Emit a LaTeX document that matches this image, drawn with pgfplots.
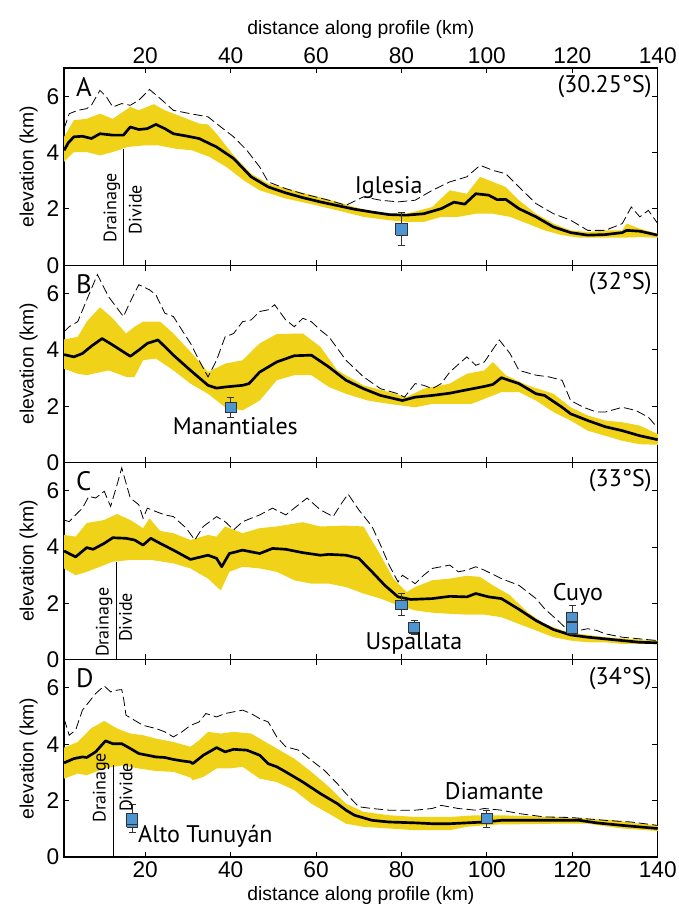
\documentclass[border=0pt]{standalone}
\usepackage{fontspec}
\setmainfont{Liberation Sans}
\newfontfamily\annot{PT Sans}
\usepackage{pgfplots}
\pgfplotsset{compat=1.18}
\usepgfplotslibrary{groupplots,fillbetween}
\definecolor{band}{RGB}{240,210,25}
\definecolor{boxblue}{RGB}{77,148,211}
\definecolor{boxedge}{RGB}{50,50,50}
\pgfplotsset{
 prof/.style={width=444.75pt,height=147.75pt,scale only axis,
  xmin=1,xmax=140,ymin=0,ymax=7,
  xtick={20,40,...,140}, ytick={0,2,4,6},
  tick align=inside, major tick length=4pt,
  tick style={black,line width=0.8pt}, axis line style={line width=0.9pt},
  ticklabel style={font=\fontsize{17}{20}\selectfont},
  /pgf/number format/assume math mode=true,
  label style={font=\fontsize{14.5}{17}\selectfont},
  ylabel={elevation (km)}},
 bandfill/.style={fill=band, draw=none},
 meanl/.style={black, line width=2pt, line join=round},
 maxl/.style={black, line width=0.6pt, dash pattern=on 7pt off 3pt},
 smp/.style={fill=boxblue, draw=boxedge, line width=0.8pt, line join=miter},
 whisk/.style={boxedge, line width=0.8pt},
}
\tikzset{
 lab/.style={font=\annot\fontsize{18}{21}\selectfont, inner sep=0pt},
 let/.style={font=\annot\fontsize{20}{23}\selectfont, inner sep=0pt},
 dd/.style={font=\annot\fontsize{13.5}{16}\selectfont, rotate=90, inner sep=0pt},
}
\begin{document}
\begin{tikzpicture}
\begin{groupplot}[group style={group size=1 by 4, vertical sep=0pt}, prof]
% ---------------- A
\nextgroupplot[xticklabel pos=upper, xtick pos=both, ytick pos=both, yticklabel pos=left,
  xlabel={distance along profile (km)}]
\addplot[name path=Aup, draw=none] coordinates {(1,4.56) (3.3,5.15) (6.3,5.2) (9.4,5.38) (12.4,5.2) (16.5,5.62) (18.5,5.5) (22,5.72) (24.6,5.5) (28.6,5.27) (32.6,5.03) (34.7,5.0) (36.7,4.67) (40.7,3.9) (44.8,3.25) (48.8,2.9) (56.9,2.57) (63,2.33) (69,2.07) (75.1,1.83) (81.2,1.83) (87.2,2.07) (91.3,2.66) (95.3,2.54) (98.4,3.14) (101.4,2.96) (104.4,2.78) (107.5,2.31) (111.5,1.83) (115.6,1.48) (119.6,1.24) (123.6,1.18) (127.7,1.24) (131.7,1.24) (132.7,1.48) (135.8,1.30) (140,1.12)};
\addplot[name path=Alo, draw=none] coordinates {(1,3.67) (3.3,4.02) (6.3,4.02) (9.4,3.9) (12.4,4.02) (15.9,4.2) (20,4.26) (23,4.26) (27,4.14) (31,4.08) (35,3.85) (39,3.49) (43,3.02) (46.8,2.66) (52.9,2.37) (58.9,2.17) (65,1.95) (71.1,1.72) (77.1,1.60) (81.2,1.54) (85.2,1.54) (89.3,1.72) (93.3,1.72) (97.4,1.83) (101.4,1.83) (105.4,1.72) (109.5,1.48) (113.5,1.24) (117.6,1.07) (121.6,0.98) (127.7,0.98) (131.7,0.98) (135.8,1.0) (140,0.98)};
\addplot[bandfill] fill between[of=Aup and Alo];
\addplot[maxl] coordinates {(1,4.85) (2.2,5.38) (4.2,5.5) (6.3,5.56) (7.4,5.68) (9.4,6.21) (10.9,5.98) (12.4,5.62) (14.5,5.74) (16.5,5.68) (18.5,5.86) (21,6.24) (23.5,5.92) (26.6,5.5) (30.6,5.38) (34.7,5.27) (37.7,4.91) (40.7,4.56) (43.8,4.08) (46.8,3.49) (48.8,2.96) (52.9,2.72) (56.9,2.54) (63,2.31) (67,2.13) (71.1,2.43) (75.1,2.31) (79.2,2.25) (83.2,2.31) (87.2,2.66) (91.3,2.96) (95.3,3.14) (98.4,3.55) (101.4,3.37) (104.4,3.25) (107.5,2.78) (111.5,2.19) (115.6,1.83) (119.6,1.60) (123.6,1.24) (127.7,1.24) (131.7,1.48) (133.8,2.07) (135.8,1.72) (137.8,1.95) (140,1.48)};
\addplot[meanl] coordinates {(1,4.08) (2,4.35) (3.3,4.56) (5.3,4.58) (7.4,4.50) (9.4,4.67) (12.4,4.62) (14.9,4.62) (16.5,4.91) (18.5,4.82) (20.5,4.85) (22.5,5.0) (24.6,4.85) (26.6,4.67) (29.6,4.59) (32.6,4.5) (36.7,4.2) (40.7,3.79) (44.8,3.14) (48.8,2.78) (52.9,2.57) (56.9,2.40) (61,2.25) (65,2.12) (69,1.99) (73.1,1.89) (77.1,1.80) (81.2,1.78) (85.2,1.83) (89.3,2.01) (92.3,2.24) (94.8,2.17) (97.4,2.54) (100.4,2.49) (102.4,2.33) (104.4,2.34) (107.5,2.01) (111.5,1.72) (115.6,1.36) (119.6,1.16) (123.6,1.07) (127.7,1.09) (131.7,1.16) (132.7,1.24) (135.8,1.21) (140,1.07)};
\addplot[black, line width=0.6pt] coordinates {(14.9,0) (14.9,4.14)};
% Iglesia sample
\addplot[whisk] coordinates {(80,0.69) (80,1.88)};
\addplot[whisk] coordinates {(79.2,0.69) (80.8,0.69)};
\addplot[whisk] coordinates {(79.2,1.88) (80.8,1.88)};
\addplot[smp] coordinates {(78.7,1.07) (81.3,1.07) (81.3,1.48) (78.7,1.48) (78.7,1.07)};
\node[dd] at (axis cs:12.2,2.05) {Drainage};
\node[dd] at (axis cs:17.7,1.98) {Divide};
\node[lab, anchor=base] at (axis cs:77,2.55) {Iglesia};
\node[let, anchor=north west] at (rel axis cs:0.02,0.955) {A};
\node[lab, anchor=north east] at (rel axis cs:0.99,0.965) {(30.25°S)};
% ---------------- B
\nextgroupplot[xticklabels={}, xtick pos=both, ytick pos=both, yticklabel pos=left]
\addplot[name path=Bup, draw=none] coordinates {(1,4.37) (4.2,4.46) (6.3,5.0) (9.4,5.51) (12.4,5.12) (15.5,4.58) (17.5,4.82) (19.5,5.0) (23.5,5.0) (26.6,4.58) (30.6,3.93) (34.7,3.21) (38.7,3.51) (42.8,3.63) (46.8,4.23) (50.8,4.56) (56.9,4.58) (61,4.11) (65,3.27) (71.1,2.74) (77.1,2.5) (81.2,2.32) (85.2,2.62) (91.3,2.8) (95.3,3.15) (99.4,3.27) (101.4,3.57) (104.4,3.1) (109.5,2.74) (115.6,2.44) (119.6,1.96) (123.6,1.67) (127.7,1.49) (131.7,1.43) (135.8,1.31) (140,1.01)};
\addplot[name path=Blo, draw=none] coordinates {(1,3.33) (4.2,3.15) (6.3,3.1) (11.4,3.27) (15.5,3.04) (17.5,3.04) (19.5,3.63) (22.5,3.69) (26.6,3.27) (30.6,2.8) (34.7,2.44) (38.7,1.96) (42.8,1.85) (46.8,2.2) (50.8,2.92) (54.9,3.1) (58.9,3.1) (63,2.68) (67,2.44) (72.1,2.2) (77.1,2.08) (83.2,1.96) (87.2,2.08) (92.3,2.08) (96.4,2.08) (99.4,2.26) (103.4,2.5) (107.5,2.5) (111.5,2.2) (115.6,1.79) (119.6,1.49) (123.6,1.13) (127.7,0.95) (131.7,0.77) (135.8,0.65) (140,0.63)};
\addplot[bandfill] fill between[of=Bup and Blo];
\addplot[maxl] coordinates {(1,4.64) (2.2,4.82) (4.2,5.0) (6.3,5.77) (8.8,6.67) (11.4,5.89) (14.9,5.18) (16.5,5.71) (18.5,6.31) (21,6.13) (22.5,5.95) (24.6,5.3) (26.6,5.18) (28.6,4.70) (30.6,4.23) (32.6,3.63) (34.7,3.04) (36.7,3.63) (38.7,4.46) (40.7,4.58) (42.8,5.0) (44.8,5.06) (46.8,5.36) (48.8,5.42) (50.3,5.6) (52.9,5.06) (54.9,4.82) (56.9,5.12) (58.9,5.0) (61,4.70) (63,4.46) (65,4.05) (67,3.63) (71.1,3.04) (75.1,2.62) (79.2,2.44) (80.7,2.32) (83.2,2.8) (85.2,2.74) (87.2,2.62) (89.3,2.8) (91.3,3.21) (95.3,3.75) (97.4,3.45) (99.4,3.57) (102.9,4.35) (105.4,3.87) (107.5,3.27) (111.5,3.1) (114.5,3.04) (117.6,2.92) (119.6,2.2) (122.6,1.96) (125.7,1.79) (127.7,1.79) (131.7,1.96) (134.8,1.85) (137.8,1.61) (139.5,1.31)};
\addplot[meanl] coordinates {(1,3.83) (3.3,3.75) (5.3,3.87) (7.4,4.13) (9.9,4.4) (12.4,4.17) (16.5,3.77) (18.5,3.99) (20.5,4.23) (23,4.35) (26.6,3.81) (30.6,3.27) (34.7,2.74) (36.7,2.64) (38.7,2.68) (42.8,2.74) (44.3,2.8) (46.8,3.21) (50.8,3.57) (54.9,3.79) (58.9,3.81) (63,3.39) (67,2.92) (71.1,2.62) (75.1,2.38) (80.2,2.2) (83.2,2.32) (87.2,2.38) (91.3,2.46) (95.3,2.58) (99.4,2.70) (101.4,2.77) (103.4,3.01) (107.5,2.80) (111.5,2.44) (113.5,2.38) (117.6,1.96) (119.6,1.73) (123.6,1.49) (127.7,1.27) (131.7,1.13) (135.8,0.95) (140,0.81)};
% Manantiales sample
\addplot[whisk] coordinates {(40,1.61) (40,2.32)};
\addplot[whisk] coordinates {(39.2,1.61) (40.8,1.61)};
\addplot[whisk] coordinates {(39.2,2.32) (40.8,2.32)};
\addplot[smp] coordinates {(38.7,1.79) (41.3,1.79) (41.3,2.14) (38.7,2.14) (38.7,1.79)};
\node[lab, anchor=base] at (axis cs:41.1,0.99) {Manantiales};
\node[let, anchor=north west] at (rel axis cs:0.02,0.955) {B};
\node[lab, anchor=north east] at (rel axis cs:0.99,0.965) {(32°S)};
% ---------------- C
\nextgroupplot[xticklabels={}, xtick pos=both, ytick pos=both, yticklabel pos=left]
\addplot[name path=Cup, draw=none] coordinates {(1,4.43) (3.7,4.37) (6.3,4.85) (10.4,4.96) (13.4,5.17) (16.5,4.96) (19.5,4.67) (21,5.02) (23.5,4.57) (26.6,4.49) (30.6,4.25) (34.7,4.43) (36.7,4.37) (38.7,4.73) (42.8,4.49) (46.8,4.67) (50.8,4.73) (56.9,4.88) (61,4.73) (67,4.76) (71.1,4.73) (75.1,3.71) (78.1,2.88) (81.2,2.40) (83.2,2.58) (87.2,2.82) (91.3,2.88) (95.3,2.98) (98.4,2.94) (101.4,2.64) (105.4,2.29) (109.5,1.69) (113.5,1.27) (117.6,1.04) (121.6,0.92) (127.7,0.80) (131.7,0.76) (140,0.68)};
\addplot[name path=Clo, draw=none] coordinates {(1,3.24) (3.7,3.0) (6.3,3.12) (10.4,3.36) (12.4,3.48) (16.5,3.54) (21.5,3.54) (26.6,3.42) (30.6,3.24) (34.7,2.88) (37.7,2.46) (39.7,3.12) (42.8,3.3) (46.8,3.24) (50.8,3.12) (54.9,2.82) (58.9,2.70) (63,2.70) (67,2.58) (71.1,2.35) (75.1,2.17) (79.2,1.93) (83.2,1.75) (87.2,1.67) (91.3,1.63) (95.3,1.6) (99.4,1.6) (103.4,1.51) (107.5,1.27) (111.5,1.04) (115.6,0.80) (119.6,0.68) (123.6,0.62) (127.7,0.62) (131.7,0.56) (140,0.56)};
\addplot[bandfill] fill between[of=Cup and Clo];
\addplot[maxl] coordinates {(1,4.96) (2.2,4.90) (3.3,5.08) (5.3,5.38) (6.8,5.80) (8.4,5.74) (10.4,5.98) (11.9,5.44) (13.4,6.21) (14.5,6.81) (16.5,5.74) (18.5,5.5) (19.5,5.02) (20.5,5.38) (22.5,5.26) (24.6,5.14) (26.6,5.08) (29.6,4.67) (31.6,4.25) (33.6,4.73) (36.7,5.08) (38.7,4.90) (40.7,4.61) (42.8,4.90) (46.8,5.14) (49.8,5.38) (52.9,5.14) (55.9,5.5) (57.9,5.74) (61,5.32) (64,5.08) (66,5.56) (67.5,5.88) (70,5.32) (73.1,4.73) (75.1,4.07) (77.1,3.36) (79.2,2.76) (80.2,3.0) (83.2,2.70) (85.2,3.0) (87.2,3.24) (91.3,3.36) (93.3,3.12) (95.3,3.18) (97.4,3.30) (99.4,3.18) (103.4,2.88) (107.5,2.64) (111.5,2.17) (113.5,1.81) (116.6,1.39) (118.6,1.10) (121.6,1.04) (123.6,1.10) (125.7,1.04) (127.7,0.92) (131.7,0.80) (135.8,0.74) (140,0.68)};
\addplot[meanl] coordinates {(1,3.86) (3.7,3.65) (6.3,3.98) (7.8,3.92) (10.4,4.13) (12.4,4.33) (15.5,4.31) (17.5,4.25) (19.5,4.07) (21.3,4.31) (23.5,4.13) (26.6,3.89) (30.6,3.56) (34.7,3.71) (36.7,3.6) (37.9,3.3) (39.7,3.77) (42.8,3.89) (46.8,3.77) (49.8,3.95) (52.9,3.92) (56.9,3.80) (61,3.71) (63,3.74) (67,3.71) (70,3.6) (73.1,3.12) (76.1,2.64) (79.2,2.23) (82.2,2.14) (87.2,2.17) (91.3,2.25) (95.3,2.23) (97.4,2.35) (100.4,2.23) (103.4,2.17) (107.5,1.79) (111.5,1.39) (115.6,1.07) (119.6,0.88) (123.6,0.80) (127.7,0.74) (131.7,0.68) (135.8,0.62) (140,0.6)};
\addplot[black, line width=0.6pt] coordinates {(13.2,0) (13.2,3.48)};
% Uspallata samples
\addplot[whisk] coordinates {(80,1.57) (80,2.34)};
\addplot[whisk] coordinates {(79.2,1.57) (80.8,1.57)};
\addplot[whisk] coordinates {(79.2,2.34) (80.8,2.34)};
\addplot[smp] coordinates {(78.7,1.78) (81.3,1.78) (81.3,2.10) (78.7,2.10) (78.7,1.78)};
\addplot[whisk] coordinates {(83,0.89) (83,1.39)};
\addplot[whisk] coordinates {(82.2,0.89) (83.8,0.89)};
\addplot[whisk] coordinates {(82.2,1.39) (83.8,1.39)};
\addplot[smp] coordinates {(81.7,0.95) (84.3,0.95) (84.3,1.33) (81.7,1.33) (81.7,0.95)};
% Cuyo sample
\addplot[whisk] coordinates {(120,0.88) (120,1.92)};
\addplot[whisk] coordinates {(119.2,0.88) (120.8,0.88)};
\addplot[whisk] coordinates {(119.2,1.92) (120.8,1.92)};
\addplot[smp] coordinates {(118.7,0.94) (121.3,0.94) (121.3,1.68) (118.7,1.68) (118.7,0.94)};
\addplot[whisk, line width=1.2pt] coordinates {(118.7,1.33) (121.3,1.33)};
\node[dd] at (axis cs:10.4,1.33) {Drainage};
\node[dd] at (axis cs:15.4,1.5) {Divide};
\node[lab, anchor=base] at (axis cs:82.9,0.38) {Uspallata};
\node[lab, anchor=base] at (axis cs:121.3,2.1) {Cuyo};
\node[let, anchor=north west] at (rel axis cs:0.02,0.955) {C};
\node[lab, anchor=north east] at (rel axis cs:0.99,0.965) {(33°S)};
% ---------------- D
\nextgroupplot[xtick pos=both, ytick pos=both, yticklabel pos=left, xticklabel pos=lower,
  xlabel={distance along profile (km)}]
\addplot[name path=Dup, draw=none] coordinates {(1,3.88) (4.2,4.08) (7.3,4.56) (10.4,4.83) (13.4,4.56) (16.5,4.38) (19.5,4.32) (22.5,4.20) (26.6,4.08) (30.6,3.91) (32.6,4.14) (34.7,4.44) (37.7,4.38) (40.7,4.44) (44.8,4.38) (46.8,4.20) (50.8,3.85) (54.9,3.49) (58.9,3.02) (63,2.49) (67,1.89) (71.1,1.60) (77.1,1.48) (83.2,1.42) (91.3,1.42) (97.4,1.48) (103.4,1.48) (107.5,1.46) (115.6,1.42) (123.6,1.36) (129.7,1.30) (135.8,1.18) (140,1.12)};
\addplot[name path=Dlo, draw=none] coordinates {(1,2.78) (4.2,2.96) (6.3,2.90) (10.4,3.14) (14.5,3.25) (18.5,3.14) (22.5,3.05) (26.6,3.02) (30.6,2.82) (31.1,2.72) (33.6,2.84) (36.7,3.14) (39.7,3.14) (42.8,3.20) (46.8,2.78) (50.8,2.66) (54.9,2.37) (58.9,1.89) (63,1.54) (67,1.18) (71.1,1.07) (77.1,1.01) (83.2,0.95) (91.3,0.95) (95.3,1.07) (99.4,1.12) (103.4,1.16) (107.5,1.16) (115.6,1.18) (123.6,1.18) (127.7,1.09) (131.7,1.01) (140,0.92)};
\addplot[bandfill] fill between[of=Dup and Dlo];
\addplot[maxl] coordinates {(1,4.91) (2.2,4.32) (3.7,4.50) (5.3,5.21) (8.4,5.80) (10.4,6.07) (11.9,5.86) (13.4,5.92) (14.5,5.94) (15,5.56) (15.5,5.03) (17.5,4.85) (19.5,4.67) (22.5,4.56) (24.6,4.44) (26.6,4.26) (28.6,4.44) (30.6,4.67) (32.6,4.79) (34.2,5.09) (36.7,4.97) (38.7,5.09) (40.7,5.15) (42.8,5.21) (44.8,5.09) (46.8,4.91) (48.8,4.79) (50.8,4.26) (52.9,3.91) (55.9,3.79) (58.9,3.43) (61.9,3.08) (65,2.60) (67,2.25) (70,1.78) (73.1,1.72) (77.1,1.66) (83.2,1.66) (87.2,1.72) (89.3,1.83) (93.3,1.72) (97.4,1.66) (99.4,1.72) (103.4,1.66) (107.5,1.54) (113.5,1.42) (119.6,1.40) (127.7,1.30) (133.8,1.24) (140,1.12)};
\addplot[meanl] coordinates {(1,3.34) (3.3,3.49) (5.3,3.55) (6.3,3.53) (8.4,3.73) (10.7,4.12) (12.4,4.02) (14.5,4.02) (16.5,3.85) (18.5,3.67) (20.5,3.61) (22.5,3.55) (24.6,3.53) (26.6,3.46) (28.6,3.41) (30.6,3.37) (31.1,3.31) (33.6,3.61) (36.7,3.88) (38.7,3.73) (40.7,3.82) (43.8,3.79) (46.8,3.61) (48.8,3.31) (50.8,3.20) (52.9,3.02) (56.9,2.66) (61,2.25) (65,1.89) (67,1.66) (69,1.48) (73.1,1.30) (77.1,1.24) (83.2,1.21) (87.2,1.18) (91.3,1.18) (95.3,1.21) (99.4,1.24) (103.4,1.30) (107.5,1.30) (115.6,1.30) (121.6,1.30) (125.7,1.21) (131.7,1.12) (140,1.01)};
\addplot[black, line width=0.6pt] coordinates {(12.6,0) (12.6,3.27)};
% Alto Tunuyan sample
\addplot[whisk] coordinates {(17,0.87) (17,1.85)};
\addplot[whisk] coordinates {(16.2,0.87) (17.8,0.87)};
\addplot[whisk] coordinates {(16.2,1.85) (17.8,1.85)};
\addplot[smp] coordinates {(15.7,1.05) (18.3,1.05) (18.3,1.55) (15.7,1.55) (15.7,1.05)};
\addplot[whisk] coordinates {(15.7,1.16) (18.3,1.16)};
% Diamante sample
\addplot[whisk] coordinates {(100,1.05) (100,1.65)};
\addplot[whisk] coordinates {(99.2,1.05) (100.8,1.05)};
\addplot[whisk] coordinates {(99.2,1.65) (100.8,1.65)};
\addplot[smp] coordinates {(98.7,1.2) (101.3,1.2) (101.3,1.55) (98.7,1.55) (98.7,1.2)};
\node[dd] at (axis cs:9.7,2.46) {Drainage};
\node[dd] at (axis cs:15.5,2.47) {Divide};
\node[lab, anchor=base west] at (axis cs:18.3,0.53) {Alto Tunuyán};
\node[lab, anchor=base] at (axis cs:101.7,2.05) {Diamante};
\node[let, anchor=north west] at (rel axis cs:0.02,0.955) {D};
\node[lab, anchor=north east] at (rel axis cs:0.99,0.965) {(34°S)};
\end{groupplot}
\pgfresetboundingbox
\path[use as bounding box] ([xshift=-48pt,yshift=51pt]group c1r1.north west) rectangle ([xshift=15.75pt,yshift=-38.25pt]group c1r4.south east);
\end{tikzpicture}
\end{document}
